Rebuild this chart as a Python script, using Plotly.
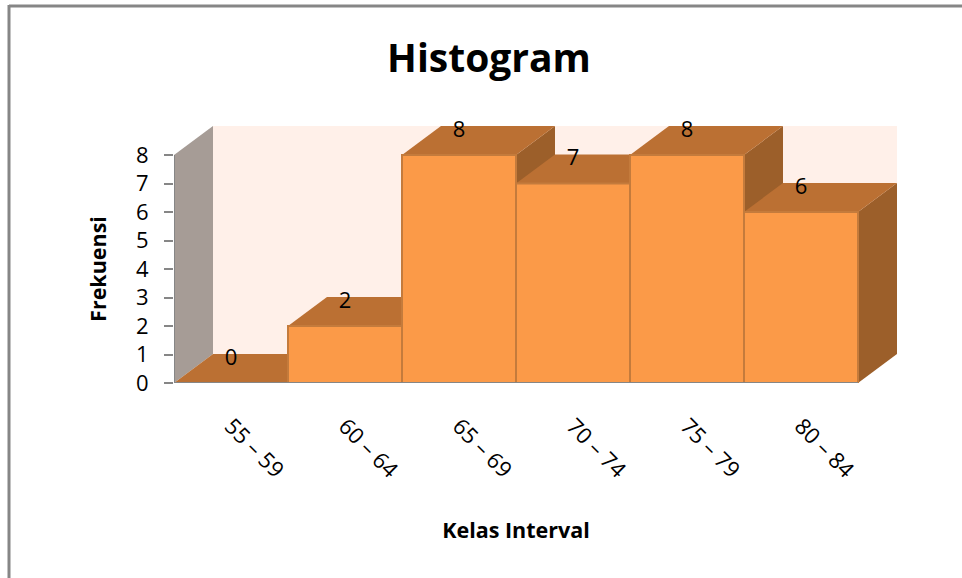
import plotly.graph_objects as go

# Data
categories = ["55 – 59", "60 – 64", "65 – 69", "70 – 74", "75 – 79", "80 – 84"]
frequencies = [0, 2, 8, 7, 8, 6]
y_ticks = [0, 1, 2, 3, 4, 5, 6, 7, 8]

# Style
FONT = "Open Sans"
FRONT, TOP, SIDE = "#FB9A48", "#BB7033", "#9C5F2A"
EDGE = "#C47B3C"
WALL, LEFT_WALL, AXIS = "#FFF0E9", "#A69C96", "#868686"
DEPTH_X, DEPTH_Y = 39 / 114, 29 / 28.5   # oblique depth, in axis units
LABEL_DROP = 5 / 28.5
n = len(categories)
ymax = max(y_ticks)
plot_l, plot_r, plot_t, plot_b = 174, 897, 126, 383   # area including depth
W, H = 962, 578
PW, PH = plot_r - plot_l, plot_b - plot_t


def poly(xs, ys, fill, edge=None, width=0):
    return go.Scatter(x=xs + xs[:1], y=ys + ys[:1], mode="lines", fill="toself", fillcolor=fill,
                      line=dict(color=edge or fill, width=width if edge else 0),
                      hoverinfo="skip", showlegend=False, cliponaxis=False, xaxis="x", yaxis="y")


fig = go.Figure()
# Walls
fig.add_trace(poly([DEPTH_X, n + DEPTH_X, n + DEPTH_X, DEPTH_X],
                   [DEPTH_Y, DEPTH_Y, ymax + DEPTH_Y, ymax + DEPTH_Y], WALL))
fig.add_trace(poly([0, DEPTH_X, DEPTH_X, 0], [0, DEPTH_Y, ymax + DEPTH_Y, ymax], LEFT_WALL))

# Columns, left to right so each one overlaps its neighbour's side face
for i, v in enumerate(frequencies):
    fig.add_trace(poly([i + 1, i + 1 + DEPTH_X, i + 1 + DEPTH_X, i + 1],
                       [0, DEPTH_Y, v + DEPTH_Y, v], SIDE))
    fig.add_trace(poly([i, i + 1, i + 1 + DEPTH_X, i + DEPTH_X],
                       [v, v, v + DEPTH_Y, v + DEPTH_Y], TOP))
    if v > 0:
        fig.add_trace(poly([i, i + 1, i + 1, i], [0, 0, v, v], FRONT, EDGE, 2))

# Data labels
fig.add_trace(go.Scatter(x=[i + 0.5 for i in range(n)], y=[v + DEPTH_Y - LABEL_DROP for v in frequencies],
                         mode="text", text=[str(v) for v in frequencies], textposition="middle center",
                         textfont=dict(family=FONT, size=22, color="#000000"),
                         hoverinfo="skip", showlegend=False, cliponaxis=False, xaxis="x", yaxis="y"))

# Axis lines (front plane axes)
fig.add_trace(go.Scatter(x=[0, 0], y=[0, ymax], mode="lines", line=dict(color=AXIS, width=2),
                         hoverinfo="skip", showlegend=False, cliponaxis=False, xaxis="x2", yaxis="y2"))
fig.add_trace(go.Scatter(x=[0, n], y=[0, 0], mode="lines", line=dict(color=AXIS, width=2),
                         hoverinfo="skip", showlegend=False, cliponaxis=False, xaxis="x2", yaxis="y2"))

front_w = n / (n + DEPTH_X)
front_h = ymax / (ymax + DEPTH_Y)


def px_x(p):
    return (p - plot_l) / PW


def px_y(p):
    return (plot_b - p) / PH


fig.update_layout(
    width=W, height=H, autosize=False,
    margin=dict(l=plot_l, r=W - plot_r, t=plot_t, b=H - plot_b),
    paper_bgcolor="#FFFFFF", plot_bgcolor="rgba(0,0,0,0)",
    showlegend=False,
    font=dict(family=FONT, color="#000000"),
    title=dict(text="<b>Histogram</b>", x=489 / W, xanchor="center", y=1 - 58 / H, yanchor="middle",
               font=dict(family=FONT, size=39, color="#000000")),
    # Depth geometry axes (hidden)
    xaxis=dict(domain=[0, 1], range=[0, n + DEPTH_X], visible=False),
    yaxis=dict(domain=[0, 1], range=[0, ymax + DEPTH_Y], visible=False),
    # Front plane axes carrying ticks and titles
    xaxis2=dict(domain=[0, front_w], range=[0, n], anchor="y2", tickmode="array",
                tickvals=[i + 0.5 for i in range(n)], ticktext=categories,
                tickangle=45, ticks="", showgrid=False, zeroline=False, showline=False,
                ticklabelstandoff=25, tickfont=dict(family=FONT, size=22, color="#000000"),
                title=dict(text="<b>Kelas Interval</b>", standoff=40,
                           font=dict(family=FONT, size=21.5, color="#000000"))),
    yaxis2=dict(domain=[0, front_h], range=[0, ymax], anchor="x2", tickmode="array", tickvals=y_ticks,
                ticks="outside", ticklen=9, tickwidth=2, tickcolor=AXIS, showgrid=False, zeroline=False,
                showline=False, ticklabelstandoff=11, tickfont=dict(family=FONT, size=22, color="#000000"),
                title=dict(text="<b>Frekuensi</b>", standoff=23,
                           font=dict(family=FONT, size=21.5, color="#000000"))),
    shapes=[
        dict(type="line", xref="paper", yref="paper", x0=px_x(9), x1=px_x(W), y0=px_y(6), y1=px_y(6),
             line=dict(color=AXIS, width=3)),
        dict(type="line", xref="paper", yref="paper", x0=px_x(9), x1=px_x(9), y0=px_y(5), y1=px_y(H),
             line=dict(color=AXIS, width=3)),
    ],
)

fig.write_html("out.html", post_script="document.body.style.margin='0';",
               config={"displayModeBar": False})
